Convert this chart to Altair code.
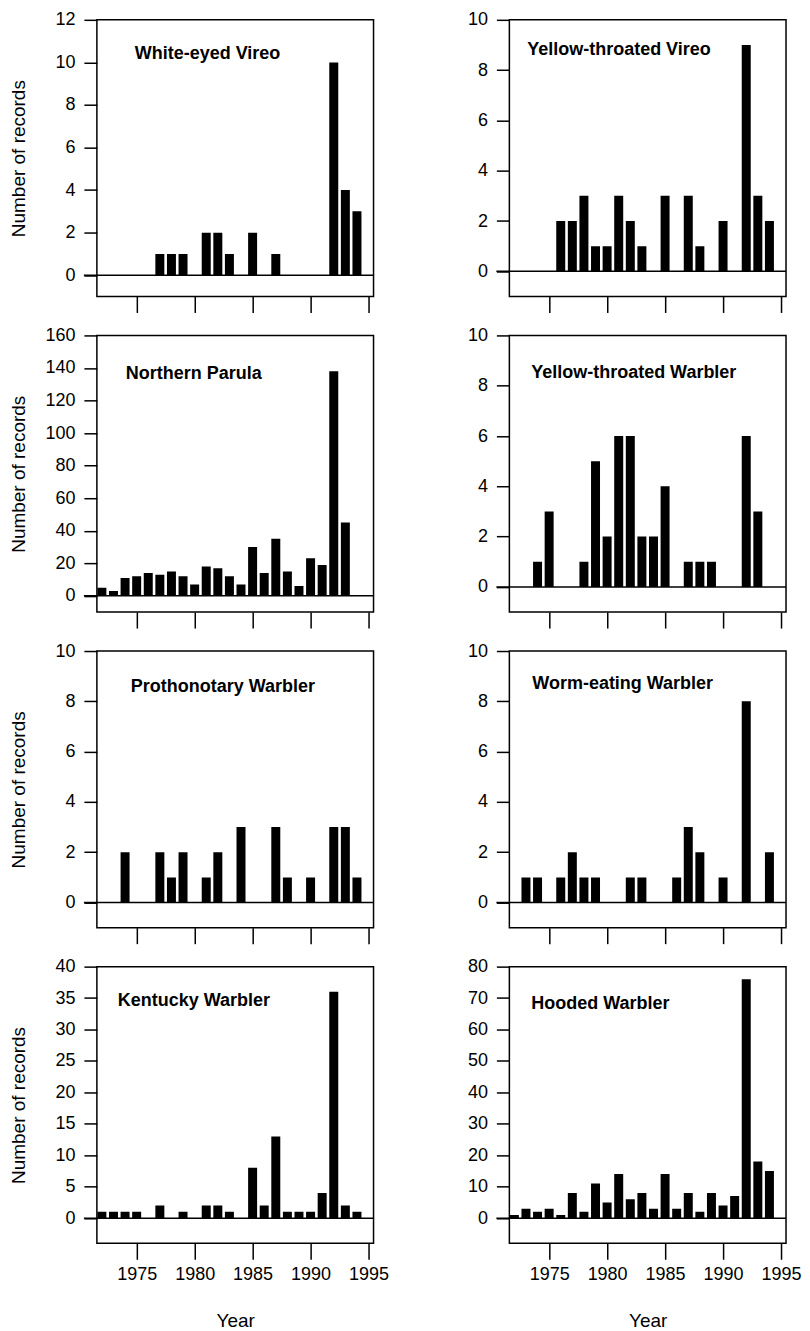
import altair as alt
import pandas as pd

YEARS = list(range(1972, 1995))

SPECIES = [
    "White-eyed Vireo",
    "Yellow-throated Vireo",
    "Northern Parula",
    "Yellow-throated Warbler",
    "Prothonotary Warbler",
    "Worm-eating Warbler",
    "Kentucky Warbler",
    "Hooded Warbler",
]

# counts per year, 1972 .. 1994
WHITE_EYED_VIREO = [0, 0, 0, 0, 0, 1, 1, 1, 0, 2, 2, 1, 0, 2, 0, 1, 0, 0, 0, 0, 10, 4, 3]
YELLOW_THROATED_VIREO = [0, 0, 0, 0, 2, 2, 3, 1, 1, 3, 2, 1, 0, 3, 0, 3, 1, 0, 2, 0, 9, 3, 2]
NORTHERN_PARULA = [5, 3, 11, 12, 14, 13, 15, 12, 7, 18, 17, 12, 7, 30, 14, 35, 15, 6, 23, 19, 138, 45, 0]
YELLOW_THROATED_WARBLER = [0, 0, 1, 3, 0, 0, 1, 5, 2, 6, 6, 2, 2, 4, 0, 1, 1, 1, 0, 0, 6, 3, 0]
PROTHONOTARY_WARBLER = [0, 0, 2, 0, 0, 2, 1, 2, 0, 1, 2, 0, 3, 0, 0, 3, 1, 0, 1, 0, 3, 3, 1]
WORM_EATING_WARBLER = [0, 1, 1, 0, 1, 2, 1, 1, 0, 0, 1, 1, 0, 0, 1, 3, 2, 0, 1, 0, 8, 0, 2]
KENTUCKY_WARBLER = [1, 1, 1, 1, 0, 2, 0, 1, 0, 2, 2, 1, 0, 8, 2, 13, 1, 1, 1, 4, 36, 2, 1]
HOODED_WARBLER = [1, 3, 2, 3, 1, 8, 2, 11, 5, 14, 6, 8, 3, 14, 3, 8, 2, 8, 4, 7, 76, 18, 15]

SERIES = [
    WHITE_EYED_VIREO,
    YELLOW_THROATED_VIREO,
    NORTHERN_PARULA,
    YELLOW_THROATED_WARBLER,
    PROTHONOTARY_WARBLER,
    WORM_EATING_WARBLER,
    KENTUCKY_WARBLER,
    HOODED_WARBLER,
]

Y_MAX = [12, 10, 160, 10, 10, 10, 40, 80]
Y_STEP = [2, 2, 20, 2, 2, 2, 5, 10]
Y_MIN = [-1, -1, -10, -1, -1, -1, -4, -8]
X_TICKS = [1975, 1980, 1985, 1990, 1995]

# label placement inside each frame (px from frame left, px of baseline from frame top)
LABEL_POS = [(38, 39), (18, 35), (29, 44), (22, 43), (34, 41), (23, 38), (21, 39), (22, 42)]

W, H = 277, 277
FONT = "Liberation Sans"


def panel(i, left, bottom):
    df = pd.DataFrame({"Year": YEARS, "Records": SERIES[i]})
    df = df[df["Records"] > 0]
    xsc = alt.Scale(domain=[1972, 1995], nice=False, zero=False)
    ysc = alt.Scale(domain=[Y_MIN[i], Y_MAX[i]], nice=False, zero=False)

    yvals = list(range(0, Y_MAX[i] + 1, Y_STEP[i]))
    yaxis_kw = dict(
        values=yvals,
        tickCount=len(yvals) + 2,
        tickSize=13,
        labelPadding=9,
        labelFontSize=18,
        labelOverlap=False,
    )
    if left:
        yaxis_kw.update(titleX=-68, titleY=H / 2, titleFontSize=19)
    xaxis_kw = dict(
        values=X_TICKS,
        tickCount=len(X_TICKS) + 2,
        format="d",
        tickSize=16,
        labels=bottom,
        labelFlush=False,
        labelOverlap=False,
        labelPadding=6,
        labelFontSize=18,
        titlePadding=28,
        titleFontSize=19,
    )

    bars = alt.Chart(df).mark_bar(size=9, color="black", clip=True).encode(
        x=alt.X("Year:Q", scale=xsc, axis=alt.Axis(**xaxis_kw),
                title="Year" if bottom else None),
        y=alt.Y("Records:Q", scale=ysc, axis=alt.Axis(**yaxis_kw),
                title="Number of records" if left else None),
    )
    zero = alt.Chart(pd.DataFrame({"z": [0]})).mark_rule(
        color="black", strokeWidth=1.5
    ).encode(y=alt.datum(0), x=alt.value(-13), x2=alt.value(W))

    dx, dy = LABEL_POS[i]
    label = alt.Chart(pd.DataFrame({"label": [SPECIES[i]]})).mark_text(
        align="left", baseline="alphabetic", font=FONT, fontSize=18,
        fontWeight="bold", color="black"
    ).encode(text="label:N", x=alt.value(dx), y=alt.value(dy))

    return alt.layer(bars, zero, label).properties(width=W, height=H)


left_col = alt.vconcat(*[panel(i, True, i == 6) for i in (0, 2, 4, 6)], spacing=11)
right_col = alt.vconcat(*[panel(i, False, i == 7) for i in (1, 3, 5, 7)], spacing=11)

chart = (
    alt.hconcat(left_col, right_col, spacing=77)
    .properties(padding={"left": 1, "top": 1, "right": 0, "bottom": 0})
    .configure_view(stroke="black", strokeWidth=1.5)
    .configure_axis(
        labelFont=FONT,
        titleFont=FONT,
        labelColor="black",
        titleColor="black",
        tickColor="black",
        tickWidth=1.5,
        titleFontWeight="normal",
        domain=False,
        grid=False,
    )
)

chart.save("out.html", embed_options={"renderer": "svg", "actions": False})
